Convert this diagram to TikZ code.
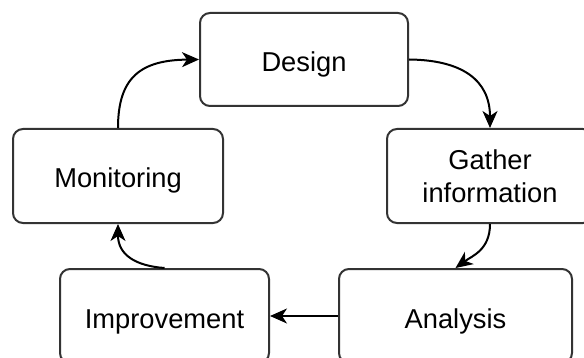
\documentclass[tikz,border=0pt]{standalone}
\usepackage{fontspec}
\setmainfont{Liberation Sans}
\usetikzlibrary{arrows.meta}
\definecolor{boxline}{HTML}{333333}
\tikzset{
  stagebox/.style={draw=boxline, line width=1pt, rounded corners=5pt, fill=white,
    align=center, inner sep=0pt, text depth=0pt, font=\fontsize{13.65}{16.5}\selectfont},
  oneline/.style={stagebox, text height=12pt},
  flow/.style={draw=black, line width=1pt,
    -{Stealth[length=8.5pt, width=7.5pt, inset=2.5pt]}}
}
\begin{document}
\begin{tikzpicture}[x=0.5pt, y=-0.5pt]
  \useasboundingbox (0,0) rectangle (584,358);
  \clip (0,0) rectangle (584,358);
  % the five stages of the cycle
  \node[oneline, minimum width=104pt, minimum height=46.5pt] (des) at (304,59.5) {Design};
  \node[stagebox, minimum width=103pt, minimum height=47pt] (gat) at (490,176) {Gather\\information};
  \node[oneline, minimum width=116.5pt, minimum height=47pt] (ana) at (455.5,316) {Analysis};
  \node[oneline, minimum width=104.5pt, minimum height=47pt] (imp) at (164.5,316) {Improvement};
  \node[oneline, minimum width=105pt, minimum height=47pt] (mon) at (118,176) {Monitoring};
  % connectors
  \draw[flow] (mon.north) .. controls (118,78) and (140,60) .. (des.west);
  \draw[flow] (des.east) .. controls (462,60) and (490,80) .. (gat.north);
  \draw[flow] (gat.south) .. controls (490,250) and (472,256) .. (ana.north);
  \draw[flow] (ana.west) -- (imp.east);
  \draw[flow] (imp.north) .. controls (136,266) and (118,255) .. (mon.south);
\end{tikzpicture}
\end{document}
